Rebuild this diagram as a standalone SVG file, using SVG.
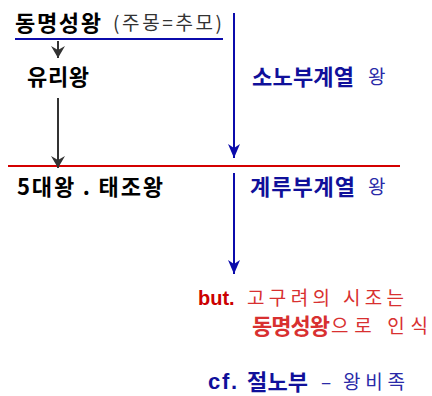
<svg xmlns="http://www.w3.org/2000/svg" width="432" height="396" viewBox="0 0 432 396">
<defs>
<style>
text{font-family:"Noto Sans CJK KR","Liberation Sans",sans-serif;font-size:19px}
.b{font-weight:bold;font-size:22px}
.lat{font-family:"Liberation Sans","Noto Sans CJK KR",sans-serif;font-size:20px}
.k{fill:#000}
.g{fill:#333}
.n{fill:#10109a}
.nl{fill:#2a2aa8}
.r{fill:#cc0000}
.rl{fill:#d83030}
.bl{stroke:#0b0bab;stroke-width:2;fill:none}
.bk{stroke:#333;stroke-width:2;fill:none}
.rd{stroke:#d40000;stroke-width:2;fill:none}
</style>
<marker id="ab" viewBox="0 0 12 14" refX="6" refY="14" markerWidth="12" markerHeight="14" markerUnits="userSpaceOnUse">
<path d="M0,0 L6,4 L12,0 L6,14 Z" fill="#0b0bab"/>
</marker>
<marker id="ak" viewBox="0 0 14 12" refX="7" refY="12" markerWidth="14" markerHeight="12" markerUnits="userSpaceOnUse">
<path d="M0,0 L7,4 L14,0 L7,12 Z" fill="#333"/>
</marker>
</defs>
<g id="connectors">
<line class="bl" x1="15" y1="39" x2="223" y2="39"/>
<line class="rd" x1="8" y1="166" x2="400" y2="166"/>
<path class="bl" d="M234,13 V158" marker-end="url(#ab)"/>
<path class="bl" d="M234,173 V274" marker-end="url(#ab)"/>
<path class="bk" d="M58,41 V58" marker-end="url(#ak)"/>
<path class="bk" d="M58,98 V168" marker-end="url(#ak)"/>
</g>
<g id="dongmyeong">
<text x="15" y="31" class="b k" textLength="86" lengthAdjust="spacing">동명성왕</text>
<text x="113" y="30" class="g" textLength="109" lengthAdjust="spacing">(주몽=추모)</text>
</g>
<g id="yuri">
<text x="27" y="85" class="b k" textLength="62" lengthAdjust="spacing">유리왕</text>
</g>
<g id="sono">
<text x="252" y="85" class="b n" textLength="102" lengthAdjust="spacing">소노부계열</text>
<text x="368" y="84" class="nl">왕</text>
</g>
<g id="taejo">
<text x="17" y="195" class="b k" textLength="146" lengthAdjust="spacing">5대왕 . 태조왕</text>
</g>
<g id="gyeru">
<text x="250" y="195" class="b n" textLength="105" lengthAdjust="spacing">계루부계열</text>
<text x="368" y="194" class="nl">왕</text>
</g>
<g id="but">
<text x="198" y="305" class="b r lat" style="font-size:20px">but.</text>
<text x="247" y="305" class="rl" textLength="157" lengthAdjust="spacing">고구려의 시조는</text>
<text x="252" y="334" class="b rl" textLength="78" lengthAdjust="spacing">동명성왕</text>
<text x="331" y="333" class="rl" textLength="97" lengthAdjust="spacing">으로 인식</text>
</g>
<g id="cf">
<text x="208" y="389" class="b n lat" style="font-size:22px" textLength="29" lengthAdjust="spacing">cf.</text>
<text x="247" y="390" class="b n" textLength="61" lengthAdjust="spacing">절노부</text>
<text x="321" y="389" class="nl">–</text>
<text x="343" y="389" class="nl" textLength="62" lengthAdjust="spacing">왕비족</text>
</g>
</svg>
